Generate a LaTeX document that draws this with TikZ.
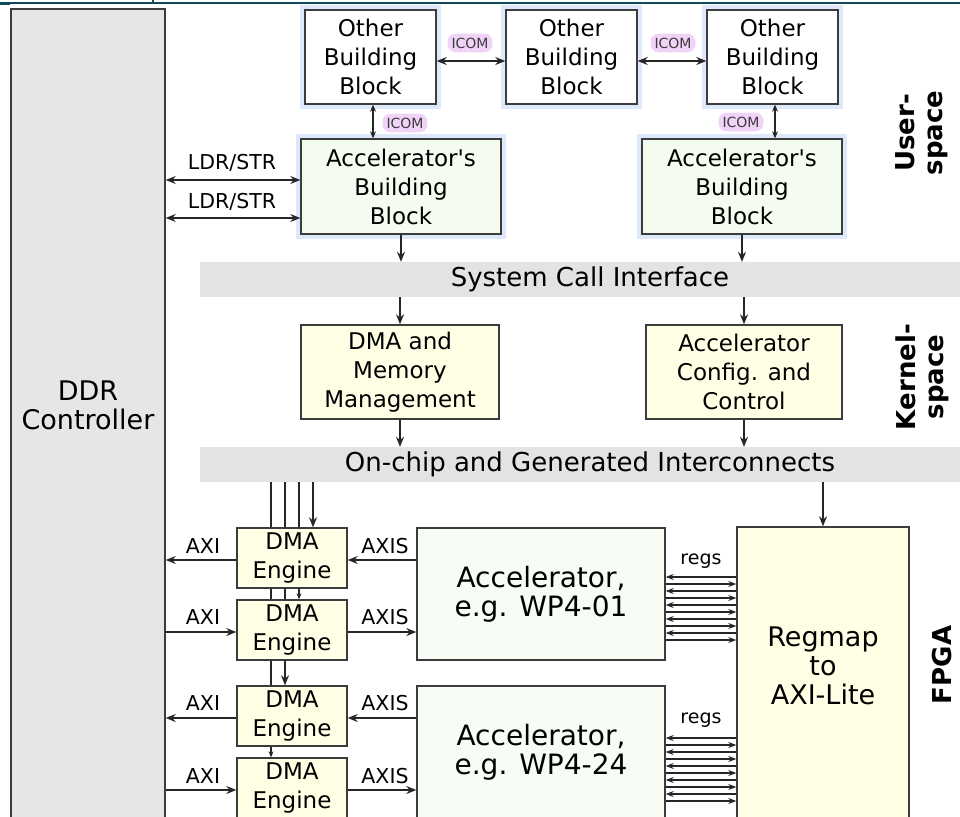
\documentclass[tikz,border=0pt]{standalone}
\usepackage{fontspec}
\setmainfont{DejaVu Sans}
\usetikzlibrary{arrows.meta}

\definecolor{ddrgray}{HTML}{E6E6E6}
\definecolor{bargray}{HTML}{E3E3E3}
\definecolor{accgreen}{HTML}{F4FCEF}
\definecolor{kyellow}{HTML}{FFFFE6}
\definecolor{halo}{HTML}{DDE8FB}
\definecolor{icompink}{HTML}{F1D3F7}
\definecolor{edge}{HTML}{3C3C3C}
\definecolor{frame}{HTML}{0E4A5A}

\tikzset{
  blk/.style={draw=edge, line width=1.4pt, align=center, inner sep=0pt,
    font=\fontsize{23}{29}\selectfont},
  glow/.style={preaction={draw=halo, line width=10pt}},
  bigtxt/.style={align=center, font=\fontsize{27}{29}\selectfont},
  bar/.style={fill=bargray, inner sep=0pt, minimum width=780pt, minimum height=35pt,
    font=\fontsize{26}{29}\selectfont},
  lbl/.style={font=\fontsize{20.5}{24}\selectfont, inner sep=1pt},
  icom/.style={fill=icompink, rounded corners=8pt, inner sep=4pt,
    font=\fontsize{14}{16}\selectfont, text=edge},
  side/.style={rotate=90, align=center, font=\fontsize{26}{28}\bfseries\selectfont},
  wire/.style={line width=1.3pt, draw=black!85},
  >={Stealth[length=10pt,width=8pt]}
}

\begin{document}
\begin{tikzpicture}[x=1pt, y=-1pt]
\path[use as bounding box, clip] (0,0) rectangle (960,816);

\draw[frame, line width=1.2pt] (0,3) -- (960,3);
\draw[frame, line width=1.2pt] (153,0) -- (153,3);
\fill[frame] (0,2.5) rectangle (10,5.5);

\node[blk, fill=ddrgray, minimum width=154pt, minimum height=831pt] (ddr) at (88,424.5) {};
\node[bigtxt] (ddrtext) at (88,405) {DDR\\Controller};

\node[blk, glow, fill=white, minimum width=131pt, minimum height=94pt] (obba) at (370.5,57) {Other\\Building\\Block};
\node[blk, glow, fill=white, minimum width=131pt, minimum height=94pt] (obbb) at (571.5,57) {Other\\Building\\Block};
\node[blk, glow, fill=white, minimum width=131pt, minimum height=94pt] (obbc) at (772.5,57) {Other\\Building\\Block};
\node[blk, glow, fill=accgreen, minimum width=200pt, minimum height=95pt] (abba) at (401,186.5) {Accelerator\textquotesingle s\\Building\\Block};
\node[blk, glow, fill=accgreen, minimum width=200pt, minimum height=95pt] (abbb) at (742,186.5) {Accelerator\textquotesingle s\\Building\\Block};

\draw[wire, <->] (obba.east |- 0,61) -- (obbb.west |- 0,61);
\draw[wire, <->] (obbb.east |- 0,61) -- (obbc.west |- 0,61);
\draw[wire, <->, >={Stealth[length=7pt,width=6pt]}] (obba.south -| 373,0) -- (abba.north -| 373,0);
\draw[wire, <->, >={Stealth[length=7pt,width=6pt]}] (obbc.south -| 775,0) -- (abbb.north -| 775,0);
\node[icom] (icomab) at (470,43) {ICOM};
\node[icom] (icombc) at (673,43) {ICOM};
\node[icom] (icoma) at (405,123) {ICOM};
\node[icom] (icomc) at (741,122) {ICOM};

\draw[wire, <->] (ddr.east |- 0,180) -- (abba.west |- 0,180);
\draw[wire, <->] (ddr.east |- 0,218) -- (abba.west |- 0,218);
\node[lbl] (ldra) at (232,163) {LDR/STR};
\node[lbl] (ldrb) at (232,202) {LDR/STR};

\node[bar] (sci) at (590,279.5) {System Call Interface};
\node[blk, fill=kyellow, minimum width=198pt, minimum height=94pt] (dmm) at (400,372) {DMA and\\Memory\\Management};
\node[blk, fill=kyellow, minimum width=196pt, minimum height=94pt] (acc) at (744,372) {Accelerator\\Config. and\\Control};
\node[bar] (oci) at (590,464.5) {On-chip and Generated Interconnects};

\draw[wire, ->] (abba.south) -- (sci.north -| abba.south);
\draw[wire, ->] (abbb.south) -- (sci.north -| abbb.south);
\draw[wire, ->] (sci.south -| dmm.north) -- (dmm.north);
\draw[wire, ->] (sci.south -| acc.north) -- (acc.north);
\draw[wire, ->] (dmm.south) -- (oci.north -| dmm.south);
\draw[wire, ->] (acc.south) -- (oci.north -| acc.south);

\node[blk, fill=kyellow, minimum width=110pt, minimum height=60pt] (dma1) at (292,558) {DMA\\Engine};
\node[blk, fill=kyellow, minimum width=110pt, minimum height=60pt] (dma2) at (292,630) {DMA\\Engine};
\node[blk, fill=kyellow, minimum width=110pt, minimum height=60pt] (dma3) at (292,716) {DMA\\Engine};
\node[blk, fill=kyellow, minimum width=110pt, minimum height=60pt] (dma4) at (292,788) {DMA\\Engine};

\node[blk, fill=accgreen!70!white, minimum width=248pt, minimum height=132pt, font=\fontsize{28}{29}\selectfont] (acca) at (541,594) {Accelerator,\\e.g. WP4-01};
\node[blk, fill=accgreen!70!white, minimum width=248pt, minimum height=132pt, font=\fontsize{28}{29}\selectfont] (accb) at (541,752) {Accelerator,\\e.g. WP4-24};
\node[blk, fill=kyellow, minimum width=172pt, minimum height=303pt] (regmap) at (823,678.5) {};
\node[bigtxt] (regtext) at (823,666) {Regmap\\to\\AXI-Lite};

\draw[wire, ->] (oci.south -| regmap.north) -- (regmap.north);
\foreach \x in {271,285,299}
  \draw[wire] (oci.south -| \x,0) -- (dma1.north -| \x,0);
\draw[wire, ->] (oci.south -| 313,0) -- (dma1.north -| 313,0);
\foreach \x in {271,285}
  \draw[wire] (dma1.south -| \x,0) -- (dma2.north -| \x,0);
\draw[wire, ->, >={Stealth[length=6pt,width=5pt]}] (dma1.south -| 299,0) -- (dma2.north -| 299,0);
\draw[wire] (dma2.south -| 271,0) -- (dma3.north -| 271,0);
\draw[wire, ->] (dma2.south -| 285,0) -- (dma3.north -| 285,0);
\draw[wire, ->, >={Stealth[length=6pt,width=5pt]}] (dma3.south -| 271,0) -- (dma4.north -| 271,0);

\draw[wire, ->] (dma1.west |- 0,560) -- (ddr.east |- 0,560);
\draw[wire, ->] (ddr.east |- 0,632) -- (dma2.west |- 0,632);
\draw[wire, ->] (dma3.west |- 0,718) -- (ddr.east |- 0,718);
\draw[wire, ->] (ddr.east |- 0,790) -- (dma4.west |- 0,790);
\node[lbl] (axia) at (203,546) {AXI};
\node[lbl] (axib) at (203,617) {AXI};
\node[lbl] (axic) at (203,703) {AXI};
\node[lbl] (axid) at (203,776) {AXI};

\draw[wire, ->] (acca.west |- 0,560) -- (dma1.east |- 0,560);
\draw[wire, ->] (dma2.east |- 0,632) -- (acca.west |- 0,632);
\draw[wire, ->] (accb.west |- 0,718) -- (dma3.east |- 0,718);
\draw[wire, ->] (dma4.east |- 0,790) -- (accb.west |- 0,790);
\node[lbl] (axisa) at (385,546) {AXIS};
\node[lbl] (axisb) at (385,617) {AXIS};
\node[lbl] (axisc) at (385,703) {AXIS};
\node[lbl] (axisd) at (385,776) {AXIS};

\foreach \y in {577,591,605,619,633} {
  \draw[wire, line width=1.1pt, <-, >={Stealth[length=8pt,width=6pt]}] (acca.east |- 0,\y) -- (regmap.west |- 0,\y);
  \draw[wire, line width=1.1pt, ->, >={Stealth[length=8pt,width=6pt]}] (acca.east |- 0,\y+7) -- (regmap.west |- 0,\y+7);
}
\foreach \y in {738,752,766,780,794} {
  \draw[wire, line width=1.1pt, <-, >={Stealth[length=8pt,width=6pt]}] (accb.east |- 0,\y) -- (regmap.west |- 0,\y);
  \draw[wire, line width=1.1pt, ->, >={Stealth[length=8pt,width=6pt]}] (accb.east |- 0,\y+7) -- (regmap.west |- 0,\y+7);
}
\node[lbl, font=\fontsize{19}{22}\selectfont] (regsa) at (701,561) {regs};
\node[lbl, font=\fontsize{19}{22}\selectfont] (regsb) at (701,720) {regs};

\node[side] (user) at (922,133) {User-\\space};
\node[side] (kernel) at (922,377) {Kernel-\\space};
\node[side] (fpga) at (942,665) {FPGA};
\end{tikzpicture}
\end{document}
